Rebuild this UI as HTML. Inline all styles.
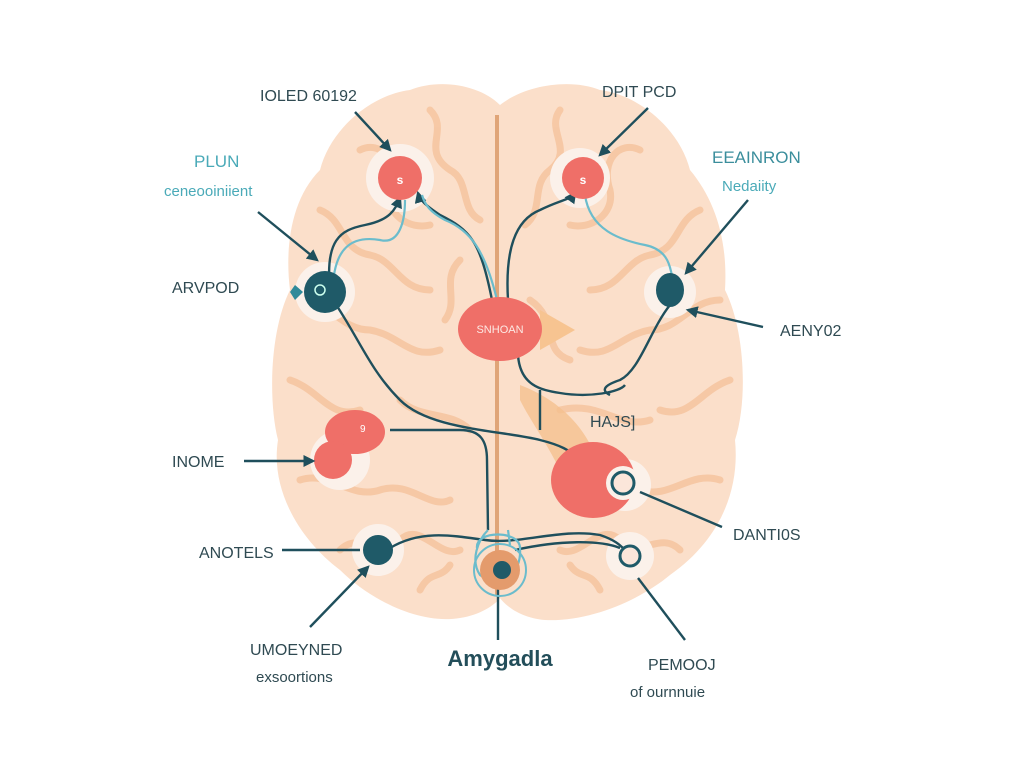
<!DOCTYPE html>
<html><head><meta charset="utf-8"><style>
html,body{margin:0;padding:0;background:#fff;}
svg{display:block}
text{font-family:"Liberation Sans",sans-serif;}
</style></head><body>
<svg width="1024" height="766" viewBox="0 0 1024 766" xmlns="http://www.w3.org/2000/svg">
<defs>
<marker id="a" viewBox="0 0 10 10" refX="8" refY="5" markerWidth="5" markerHeight="5" orient="auto"><path d="M0,0L10,5L0,10z" fill="#1f4f5c"/></marker>
</defs>
<rect width="1024" height="766" fill="#fff"/>
<path d="M500,105 C480,85 440,78 410,90 C370,95 330,130 320,170 C290,200 285,250 290,290 C270,330 268,400 278,440 C270,490 300,540 340,570 C370,600 420,625 460,618 C480,615 495,605 500,598 C505,605 520,618 545,620 C590,622 640,600 670,575 C720,540 740,490 735,440 C748,400 745,330 725,290 C728,240 715,200 690,170 C680,130 640,95 600,90 C570,78 525,85 500,105Z" fill="#fbdfca"/>
<g fill="none" stroke="#f6c6a2" stroke-width="7" stroke-linecap="round" opacity="0.9">
<path d="M430,110 C450,130 420,150 450,170 C470,180 460,210 480,220"/>
<path d="M360,150 C380,140 400,160 390,190 C385,215 410,230 430,225"/>
<path d="M320,210 C345,220 340,250 370,255 C395,260 400,290 430,290"/>
<path d="M300,300 C330,300 340,330 370,330 C400,335 410,360 440,350"/>
<path d="M290,380 C320,390 330,420 360,410"/>
<path d="M300,480 C330,470 350,500 380,490 C410,480 430,510 450,500"/>
<path d="M340,550 C360,530 380,560 400,540 C420,520 440,560 460,550"/>
<path d="M420,590 C430,570 440,580 450,565"/>
<path d="M460,260 C440,280 460,300 445,320"/>
<path d="M400,400 C420,420 450,410 470,430"/>
<path d="M560,110 C545,130 575,150 550,170 C530,185 545,210 525,225"/>
<path d="M640,150 C620,140 600,160 610,190 C615,215 590,230 570,225"/>
<path d="M700,210 C675,220 680,250 650,255 C625,260 620,290 590,290"/>
<path d="M720,300 C690,300 680,330 650,330 C620,335 610,360 580,350"/>
<path d="M730,380 C700,390 690,420 660,410"/>
<path d="M720,480 C690,470 670,500 640,490 C610,480 590,510 570,500"/>
<path d="M680,550 C660,530 640,560 620,540 C600,520 580,560 560,550"/>
<path d="M600,590 C590,570 580,580 570,565"/>
<path d="M560,410 C600,400 620,430 650,420"/>
<path d="M530,300 C560,320 540,350 570,360"/>
</g>
<line x1="497" y1="115" x2="497" y2="595" stroke="#e0a578" stroke-width="4"/>
<path d="M520,385 C560,400 590,430 600,470 L560,470 C545,440 530,420 520,400Z" fill="#f5c08f" opacity="0.8"/>
<path d="M540,310 L575,330 L540,350Z" fill="#f7c491"/>
<!-- halos -->
<g fill="#fbf1ea">
<circle cx="400" cy="178" r="34"/><circle cx="580" cy="178" r="30"/>
<circle cx="325" cy="292" r="30"/><circle cx="670" cy="292" r="26"/>
<circle cx="340" cy="460" r="30"/><circle cx="625" cy="485" r="26"/>
<circle cx="378" cy="550" r="26"/><circle cx="630" cy="556" r="24"/>
</g>
<!-- connectors -->
<g fill="none" stroke="#1f4f5c" stroke-width="2.4">
<path d="M330,290 C325,240 340,230 365,225 C390,220 395,210 400,198" marker-end="url(#a)"/>
<path d="M492,300 C480,240 470,230 440,215 C425,205 420,200 418,193" marker-end="url(#a)"/>
<path d="M508,300 C505,250 515,220 540,210 C560,200 570,200 575,193" marker-end="url(#a)"/>
<path d="M333,300 C360,340 370,370 400,400 C430,430 500,430 540,440 C560,445 570,450 580,460"/>
<path d="M518,355 C520,385 540,390 560,393 C590,398 620,392 625,385"/>
<path d="M670,305 C650,330 640,370 620,380 C605,385 600,390 610,395"/>
<path d="M540,390 L540,430"/>
<path d="M390,430 L460,430 C480,430 487,440 487,460 L488,530"/>
<path d="M390,548 C420,530 450,535 485,540 C520,545 560,528 600,535 C615,540 620,545 625,550"/>
<path d="M515,550 C560,540 600,540 620,548"/>
<path d="M498,576 L498,640"/>
</g>
<g fill="none" stroke="#6bbccc" stroke-width="2.2">
<path d="M333,285 C335,250 350,235 380,240 C400,245 405,220 405,200"/>
<path d="M497,300 C485,250 470,230 445,220 C430,212 425,205 422,195"/>
<path d="M585,195 C590,230 620,240 645,245 C670,250 670,270 672,275"/>
<path d="M477,548 C475,530 520,530 520,548 C522,575 500,590 480,575 C470,560 478,540 488,530 M508,530 L510,545"/>
</g>
<!-- nodes -->
<circle cx="400" cy="178" r="22" fill="#ef6f68"/><text x="400" y="184" font-size="12" fill="#fff" text-anchor="middle" font-weight="bold">s</text>
<circle cx="583" cy="178" r="21" fill="#ef6f68"/><text x="583" y="184" font-size="12" fill="#fff" text-anchor="middle" font-weight="bold">s</text>
<ellipse cx="500" cy="329" rx="42" ry="32" fill="#ef6f68"/><text x="500" y="333" font-size="11" fill="#fde9e4" text-anchor="middle">SNHOAN</text>
<path d="M303,292 L295,285 L290,292 L295,300Z" fill="#2f8a9a"/>
<circle cx="325" cy="292" r="21" fill="#1f5a68"/><circle cx="320" cy="290" r="5" fill="none" stroke="#cfe" stroke-width="1.5"/>
<ellipse cx="670" cy="290" rx="14" ry="17" fill="#1f5a68"/>
<ellipse cx="355" cy="432" rx="30" ry="22" fill="#ef6f68"/><circle cx="333" cy="460" r="19" fill="#ef6f68"/><text x="360" y="432" font-size="10" fill="#fff">9</text>
<ellipse cx="593" cy="480" rx="42" ry="38" fill="#ef6f68"/>
<circle cx="623" cy="483" r="17" fill="#fbf1ea"/><circle cx="623" cy="483" r="11" fill="#fbe6da" stroke="#1f5a68" stroke-width="3"/>
<circle cx="378" cy="550" r="15" fill="#1f5a68"/>
<circle cx="630" cy="556" r="10" fill="#fbe6da" stroke="#1f5a68" stroke-width="3"/>
<circle cx="500" cy="570" r="26" fill="none" stroke="#6bbccc" stroke-width="2"/>
<circle cx="500" cy="570" r="20" fill="#e49b6c"/>
<circle cx="502" cy="570" r="9" fill="#1f5a68"/>
<!-- label arrows -->
<g stroke="#1f4f5c" stroke-width="2.4" fill="none">
<line x1="355" y1="112" x2="390" y2="150" marker-end="url(#a)"/>
<line x1="648" y1="108" x2="600" y2="155" marker-end="url(#a)"/>
<line x1="258" y1="212" x2="317" y2="260" marker-end="url(#a)"/>
<line x1="748" y1="200" x2="686" y2="273" marker-end="url(#a)"/>
<line x1="763" y1="327" x2="688" y2="310" marker-end="url(#a)"/>
<line x1="244" y1="461" x2="313" y2="461" marker-end="url(#a)"/>
<line x1="282" y1="550" x2="360" y2="550" />
<line x1="310" y1="627" x2="368" y2="567" marker-end="url(#a)"/>
<line x1="722" y1="527" x2="640" y2="492"/>
<line x1="685" y1="640" x2="638" y2="578"/>
</g>
<!-- labels -->
<g fill="#2f4a52" font-size="16">
<text x="260" y="101">IOLED 60192</text>
<text x="602" y="97">DPIT PCD</text>
<text x="172" y="293">ARVPOD</text>
<text x="780" y="336">AENY02</text>
<text x="590" y="427">HAJS]</text>
<text x="172" y="467">INOME</text>
<text x="733" y="540">DANTI0S</text>
<text x="199" y="558">ANOTELS</text>
<text x="250" y="655">UMOEYNED</text>
<text x="256" y="682" font-size="15">exsoortions</text>
<text x="648" y="670">PEMOOJ</text>
<text x="630" y="697" font-size="15">of ournnuie</text>
</g>
<text x="194" y="167" font-size="17" fill="#4aaab8">PLUN</text>
<text x="164" y="196" font-size="15" fill="#4aaab8">ceneooiniient</text>
<text x="712" y="163" font-size="17" fill="#3b8e9c">EEAINRON</text>
<text x="722" y="191" font-size="15" fill="#4aaab8">Nedaiity</text>
<text x="500" y="666" font-size="22" font-weight="bold" fill="#234e5a" text-anchor="middle">Amygadla</text>
</svg>
</body></html>
